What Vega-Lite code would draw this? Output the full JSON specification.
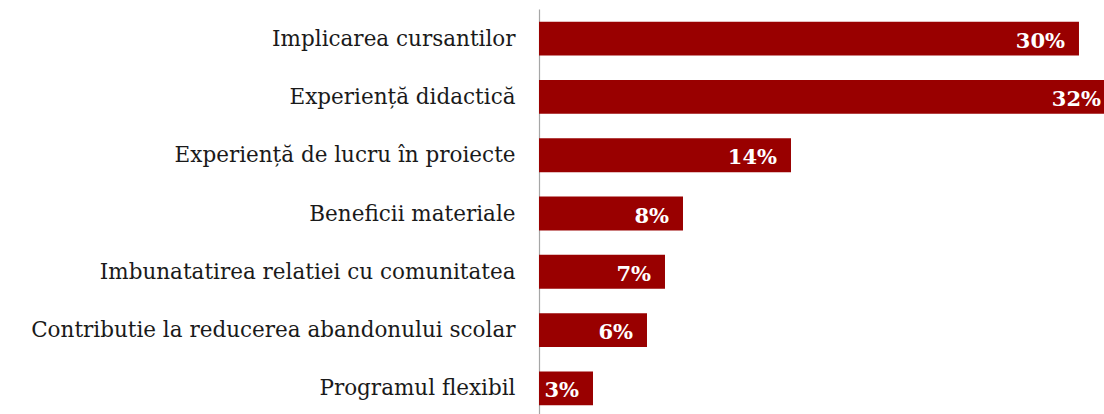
{
  "$schema": "https://vega.github.io/schema/vega-lite/v6.json",
  "autosize": {"type": "none"},
  "padding": {"left": 539, "top": 9, "right": 0, "bottom": 0},
  "width": 565,
  "height": 409,
  "background": "white",
  "config": {"view": {"stroke": null}},
  "data": {"values": [
    {"cat": "Implicarea cursantilor", "v": 0.30},
    {"cat": "Experiență didactică", "v": 0.32},
    {"cat": "Experiență de lucru în proiecte", "v": 0.14},
    {"cat": "Beneficii materiale", "v": 0.08},
    {"cat": "Imbunatatirea relatiei cu comunitatea", "v": 0.07},
    {"cat": "Contributie la reducerea abandonului scolar", "v": 0.06},
    {"cat": "Programul flexibil", "v": 0.03}
  ]},
  "encoding": {
    "y": {"field": "cat", "type": "nominal", "sort": null,
      "scale": {"paddingInner": 0.42, "paddingOuter": 0.22},
      "axis": {"title": null, "ticks": false, "domainColor": "#a6a6a6", "domainWidth": 1.2,
        "labelFont": "DejaVu Serif", "labelFontSize": 21.5, "labelColor": "#1a1a1a", "labelPadding": 24, "labelLimit": 600, "labelBaseline": "middle", "labelOffset": 1}},
    "x": {"field": "v", "type": "quantitative", "scale": {"domain": [0, 0.3139], "nice": false}, "axis": null}
  },
  "layer": [
    {"mark": {"type": "bar", "color": "#990000", "clip": true}},
    {"mark": {"type": "text", "align": "right", "dx": -14, "dy": 3, "color": "white", "font": "DejaVu Serif", "fontWeight": "bold", "fontSize": 21, "baseline": "middle"},
     "encoding": {"text": {"field": "v", "type": "quantitative", "format": ".0%"}}}
  ]
}
